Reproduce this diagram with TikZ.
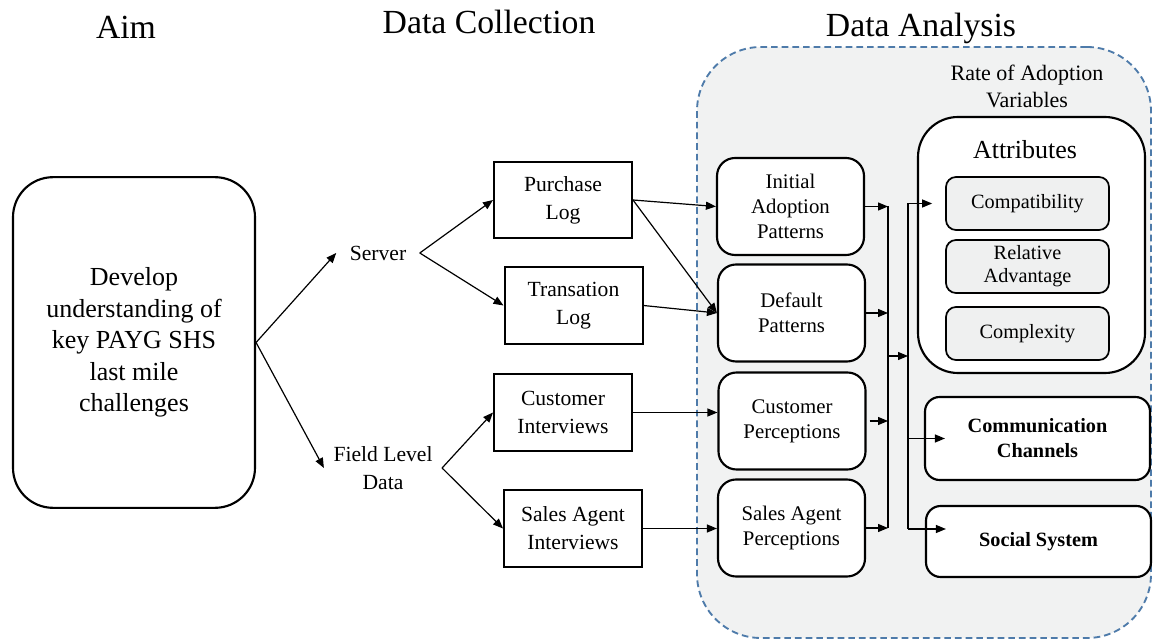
\documentclass[tikz,border=0pt]{standalone}
\usepackage{fontspec}
\setmainfont{Liberation Serif}
\usetikzlibrary{arrows.meta,calc}
\definecolor{regionfill}{HTML}{F1F2F2}
\definecolor{regionline}{HTML}{4E7BAA}
\definecolor{itemfill}{HTML}{EFF0F0}
\newcommand{\fsz}[2]{\fontsize{#1}{#2}\selectfont}

\begin{document}
\begin{tikzpicture}[x=0.75pt,y=-0.75pt,
  every node/.style={inner sep=0pt, align=center},
  heading/.style={font=\fsz{25.3pt}{30pt}},
  plaintext/.style={font=\fsz{16.2pt}{21pt}},
  aimbox/.style={draw, rounded corners=30pt, line width=1.6pt,
    minimum width=181.5pt, minimum height=248pt, font=\fsz{19.5pt}{23.6pt}},
  logbox/.style={draw, line width=1.5pt, minimum width=103.5pt,
    minimum height=57.5pt, font=\fsz{16.2pt}{21pt}},
  stagebox/.style={draw, fill=white, rounded corners=13.5pt, line width=1.6pt,
    minimum width=110.25pt, minimum height=72.75pt, font=\fsz{15.6pt}{18.75pt}},
  itembox/.style={draw, fill=itemfill, rounded corners=7.5pt, line width=1.3pt,
    minimum width=122.25pt, minimum height=39.75pt, font=\fsz{15.2pt}{17.3pt}},
  varbox/.style={draw, fill=white, rounded corners=11pt, line width=1.6pt,
    minimum width=168.75pt, font=\bfseries\fsz{15.2pt}{18.75pt}},
  arr/.style={-{Triangle[length=7.5pt,width=6pt]}, line width=0.9pt},
  wire/.style={line width=0.9pt}
]
\useasboundingbox (0,0) rectangle (1153,641);

% analysis region
\node[draw=regionline, fill=regionfill, dashed, dash pattern=on 5pt off 3pt,
  line width=1.4pt, rounded corners=48pt, minimum width=340.5pt,
  minimum height=443.25pt] (region) at (924,342.5) {};

% column headings
\node[heading] (hAim) at (126,27) {Aim};
\node[heading] (hCollect) at (489,22) {Data Collection};
\node[heading] (hAnalysis) at (921,28) {Data Analysis};

% aim
\node[aimbox] (aim) at (134,342.5) {Develop\\understanding of\\key PAYG SHS\\last mile\\challenges};

% data sources
\node[plaintext, inner xsep=10pt] (server) at (378,253) {Server};
\node[plaintext, inner xsep=7pt] (field) at (383,468) {Field Level\\Data};

\node[logbox] (purchase) at (563,200) {Purchase\\Log};
\node[logbox] (trans) at (573.5,305.5) {Transation\\Log};
\node[logbox] (custint) at (563,412.5) {Customer\\Interviews};
\node[logbox] (salesint) at (573,528.5) {Sales Agent\\Interviews};

% analysis stages
\node[stagebox] (initial) at (790.5,206.5) {Initial\\Adoption\\Patterns};
\node[stagebox] (default) at (791.5,313) {Default\\Patterns};
\node[stagebox] (custp) at (792,421) {Customer\\Perceptions};
\node[stagebox] (salesp) at (791.5,528) {Sales Agent\\Perceptions};

% rate of adoption variables
\node[font=\fsz{16.5pt}{20.2pt}] (rate) at (1027,86) {Rate of Adoption\\Variables};
\node[draw, fill=white, rounded corners=30pt, line width=1.6pt,
  minimum width=170.25pt, minimum height=192pt] (attr) at (1031.5,245) {};
\node[font=\fsz{19.5pt}{23pt}] (attrtitle) at (1025,150) {Attributes};
\node[itembox] (compat) at (1027.5,203.5) {Compatibility};
\node[itembox] (reladv) at (1027.5,266.5) {Relative\\Advantage};
\node[itembox] (complex) at (1027.5,333.5) {Complexity};
\node[varbox, minimum height=62.25pt] (comm) at (1037.5,438.5) {Communication\\Channels};
\node[varbox, minimum height=53.25pt] (social) at (1038.5,541.5) {Social System};

% aim to data sources
\draw[arr] (aim.east) -- (server.west);
\draw[arr] (aim.east) -- (field.west);
\draw[arr] (server.east) -- (purchase.west);
\draw[arr] (server.east) -- (trans.west);
\draw[arr] (field.east) -- (custint.west);
\draw[arr] (field.east) -- (salesint.west);

% data sources to analysis stages
\draw[arr] (purchase.east) -- (initial.west);
\draw[arr] (purchase.east) -- (default.west);
\draw[arr] (trans.east) -- (default.west);
\draw[arr] (custint.east) -- (custint.east -| custp.west);
\draw[arr] (salesint.east) -- (salesint.east -| salesp.west);

% collector buses
\coordinate (b1top) at (888,206.5);
\coordinate (b1bot) at (888,528);
\coordinate (b1mid) at (888,356);
\coordinate (b2top) at (908,203.5);
\coordinate (b2bot) at (908,529);
\draw[wire] (b1top) -- (b1bot);
\draw[wire] (b2top) -- (b2bot);

\draw[arr] (initial.east) -- (initial.east -| b1top);
\draw[arr] (default.east) -- (default.east -| b1top);
\draw[arr] ($(custp.east)+(3,0)$) -- (custp.east -| b1top);
\draw[arr] (salesp.east) -- (salesp.east -| b1top);
\draw[arr] (b1mid) -- (b1mid -| b2top);

\draw[arr] (b2top) -- ($(compat.west)+(-13,0)$);
\draw[arr] (comm.west -| b2top) -- ($(comm.west)+(21,0)$);
\draw[arr] (b2bot) -- ($(b2bot -| social.west)+(21,0)$);
\end{tikzpicture}
\end{document}
